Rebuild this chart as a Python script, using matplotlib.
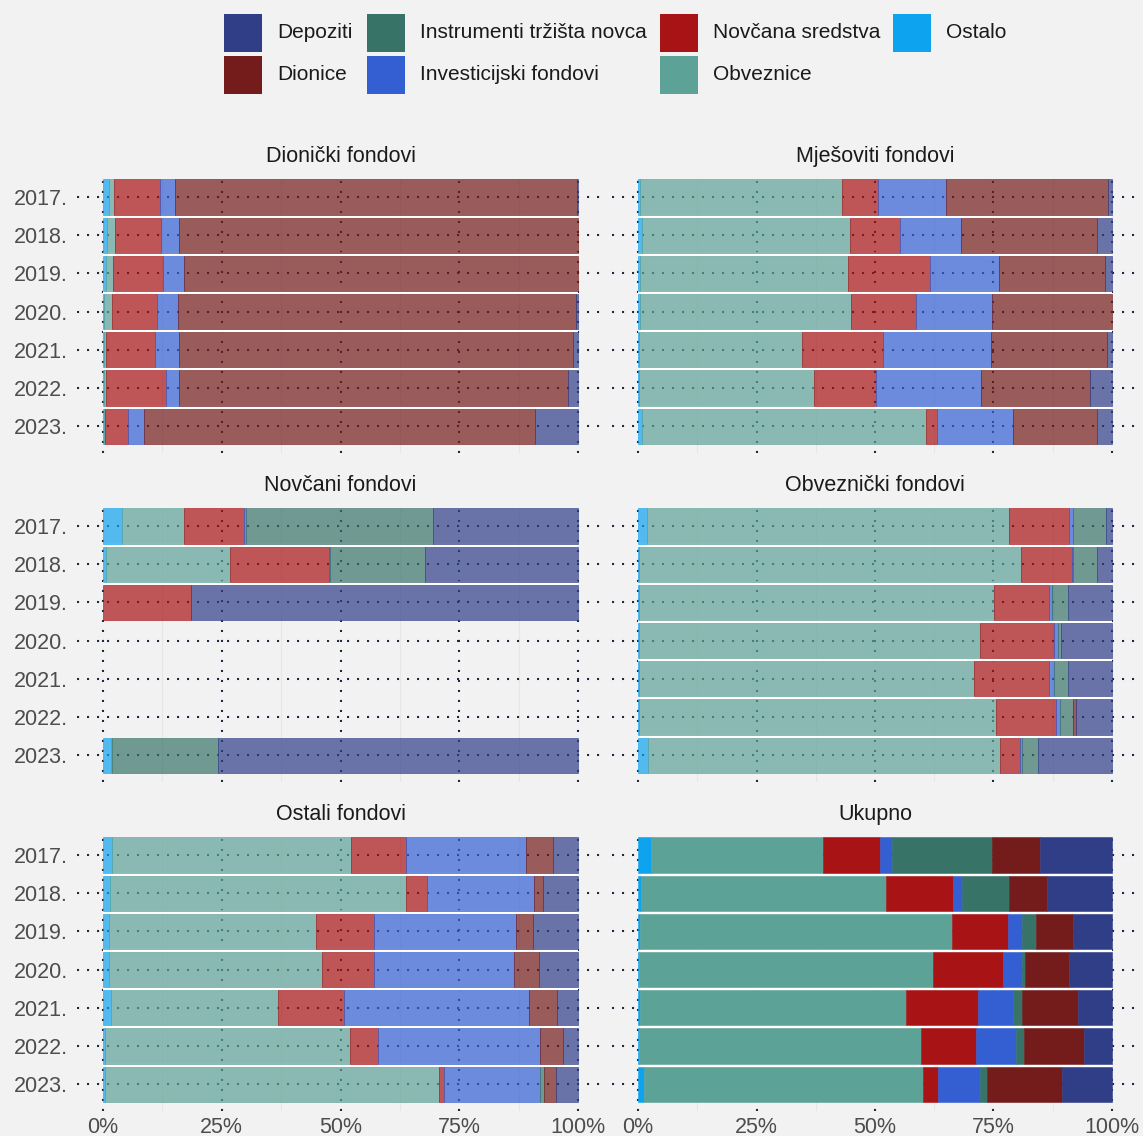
import numpy as np
import matplotlib
matplotlib.use('Agg')
import matplotlib.pyplot as plt
from matplotlib.colors import to_rgba
from matplotlib.patches import Rectangle

plt.rcParams['font.family'] = ['Liberation Sans', 'DejaVu Sans']

years = ['2017.', '2018.', '2019.', '2020.', '2021.', '2022.', '2023.']

# stacking order, left to right
stack_order = ['Ostalo', 'Obveznice', 'Novčana sredstva', 'Investicijski fondovi',
               'Instrumenti tržišta novca', 'Dionice', 'Depoziti']

colors = {
    'Depoziti': '#303e88',
    'Dionice': '#731c1b',
    'Instrumenti tržišta novca': '#387368',
    'Investicijski fondovi': '#345fd3',
    'Novčana sredstva': '#a81315',
    'Obveznice': '#5da297',
    'Ostalo': '#0ea3ef',
}

# shares in %, years 2017.-2023.
dionicki = {
    'Ostalo':                    [1.2, 0.8, 0.6, 0.1, 0.1, 0.2, 0.2],
    'Obveznice':                 [1.0, 1.8, 1.5, 1.7, 0.6, 0.5, 0.2],
    'Novčana sredstva':          [9.8, 9.5, 10.5, 9.5, 10.3, 12.6, 4.9],
    'Investicijski fondovi':     [3.1, 3.9, 4.4, 4.5, 5.0, 2.6, 3.3],
    'Instrumenti tržišta novca': [0, 0, 0, 0, 0, 0, 0],
    'Dionice':                   [84.8, 84.0, 83.0, 83.7, 83.0, 82.0, 82.4],
    'Depoziti':                  [0.1, 0, 0, 0.5, 1.0, 2.1, 9.0],
}

mjesoviti = {
    'Ostalo':                    [0.5, 0.8, 0.4, 0.4, 0.2, 0.2, 0.9],
    'Obveznice':                 [42.5, 43.9, 44.0, 44.6, 34.4, 36.9, 59.8],
    'Novčana sredstva':          [7.7, 10.6, 17.2, 13.7, 17.0, 13.2, 2.3],
    'Investicijski fondovi':     [14.2, 12.8, 14.6, 15.9, 22.8, 22.0, 16.1],
    'Instrumenti tržišta novca': [0, 0, 0, 0, 0, 0, 0],
    'Dionice':                   [34.2, 28.8, 22.3, 25.4, 24.6, 23.0, 17.8],
    'Depoziti':                  [0.9, 3.1, 1.5, 0, 1.0, 4.7, 3.1],
}

novcani = {
    'Ostalo':                    [4.0, 0.7, 0, None, None, None, 1.7],
    'Obveznice':                 [13.0, 26.0, 0, None, None, None, 0.1],
    'Novčana sredstva':          [12.6, 20.9, 18.5, None, None, None, 0],
    'Investicijski fondovi':     [0.5, 0.2, 0, None, None, None, 0],
    'Instrumenti tržišta novca': [39.3, 19.9, 0, None, None, None, 22.5],
    'Dionice':                   [0, 0, 0, None, None, None, 0],
    'Depoziti':                  [30.6, 32.3, 81.5, None, None, None, 75.7],
}

obveznicki = {
    'Ostalo':                    [1.9, 0.2, 0.3, 0.2, 0.2, 0.2, 2.2],
    'Obveznice':                 [76.3, 80.6, 74.8, 72.0, 70.7, 75.4, 74.1],
    'Novčana sredstva':          [12.8, 10.7, 11.7, 15.5, 15.9, 12.6, 4.4],
    'Investicijski fondovi':     [0.8, 0.3, 0.5, 0.9, 0.9, 0.9, 0.4],
    'Instrumenti tržišta novca': [7.0, 5.1, 3.4, 0.7, 3.0, 2.6, 3.2],
    'Dionice':                   [0, 0, 0, 0, 0, 0.7, 0],
    'Depoziti':                  [1.2, 3.1, 9.3, 10.7, 9.3, 7.6, 15.7],
}

ostali = {
    'Ostalo':                    [1.8, 1.5, 1.2, 1.2, 1.6, 0.5, 0.4],
    'Obveznice':                 [50.4, 62.2, 43.6, 45.0, 35.2, 51.4, 70.3],
    'Novčana sredstva':          [11.6, 4.5, 12.3, 10.9, 13.9, 6.1, 1.1],
    'Investicijski fondovi':     [25.2, 22.5, 29.8, 29.4, 39.1, 34.0, 20.2],
    'Instrumenti tržišta novca': [0, 0, 0, 0, 0, 0, 0.8],
    'Dionice':                   [5.8, 1.9, 3.6, 5.3, 5.9, 4.8, 2.5],
    'Depoziti':                  [5.2, 7.4, 9.5, 8.2, 4.3, 3.2, 4.7],
}

ukupno = {
    'Ostalo':                    [2.8, 0.6, 0.4, 0.2, 0.4, 0.2, 1.3],
    'Obveznice':                 [36.2, 51.7, 65.9, 62.1, 56.1, 59.6, 58.8],
    'Novčana sredstva':          [12.0, 14.1, 11.8, 14.8, 15.2, 11.5, 3.1],
    'Investicijski fondovi':     [2.5, 2.0, 2.9, 3.9, 7.4, 8.4, 8.9],
    'Instrumenti tržišta novca': [21.1, 9.8, 3.0, 0.7, 2.0, 1.7, 1.6],
    'Dionice':                   [10.3, 8.0, 7.8, 9.3, 11.8, 12.8, 15.8],
    'Depoziti':                  [15.1, 13.8, 8.2, 9.0, 7.1, 5.8, 10.5],
}

panels = [
    ('Dionički fondovi', dionicki, 0.7),
    ('Mješoviti fondovi', mjesoviti, 0.7),
    ('Novčani fondovi', novcani, 0.7),
    ('Obveznički fondovi', obveznicki, 0.7),
    ('Ostali fondovi', ostali, 0.7),
    ('Ukupno', ukupno, 1.0),
]

bg = '#f2f2f2'
dot_col = '#1f2a40'
dots = (0, (1, 3.8))

W, H = 1143, 1136
fig = plt.figure(figsize=(W / 100, H / 100), dpi=100, facecolor=bg)

col_x = [77, 612]
col_w = [527, 526]
row_top = [179, 508, 837]
ax_h = 274

for k, (title, data, alpha) in enumerate(panels):
    r, c = divmod(k, 2)
    rect = [col_x[c] / W, (H - row_top[r] - ax_h) / H, col_w[c] / W, ax_h / H]
    ax = fig.add_axes(rect)
    ax.set_facecolor(bg)
    for s in ax.spines.values():
        s.set_visible(False)
    ax.set_xlim(-0.055, 1.055)
    ax.set_ylim(6.7, -0.47)

    # grid
    for v in [0.125, 0.375, 0.625, 0.875]:
        ax.axvline(v, color='#e6e6e6', lw=0.8, zorder=0.5)
    for v in [0, 0.25, 0.5, 0.75, 1.0]:
        ax.axvline(v, color=dot_col, lw=1.5, ls=dots, dash_capstyle='butt', zorder=1)
    for i in range(len(years)):
        ax.axhline(i, color=dot_col, lw=1.5, ls=dots, dash_capstyle='butt', zorder=1)

    y = np.arange(len(years))
    has = np.array([data['Depoziti'][i] is not None for i in range(len(years))])
    left = np.zeros(len(years))
    for cat in stack_order:
        vals = np.array([np.nan if v is None else v for v in data[cat]], dtype=float) / 100
        m = np.nan_to_num(vals) > 0
        if m.any():
            ax.barh(y[m], vals[m], left=left[m], height=0.92,
                    facecolor=to_rgba(colors[cat], alpha), edgecolor=colors[cat],
                    linewidth=0.4, zorder=2)
        left += np.nan_to_num(vals)

    # white separators between neighbouring bars
    for i in range(len(years) - 1):
        if has[i] and has[i + 1]:
            ax.plot([0, 1], [i + 0.5, i + 0.5], color='white', lw=2.6,
                    solid_capstyle='butt', zorder=1.5)

    ax.set_title(title, fontsize=15.5, color='#1a1a1a', pad=12)

    ax.set_yticks(y)
    ax.set_xticks([0, 0.25, 0.5, 0.75, 1.0])
    ax.tick_params(length=0, labelsize=15.5, labelcolor='#4d4d4d')
    ax.tick_params(axis='y', pad=6.5)
    ax.tick_params(axis='x', pad=4)
    if c == 0:
        ax.set_yticklabels(years)
    else:
        ax.set_yticklabels([])
    if r == 2:
        ax.set_xticklabels(['0%', '25%', '50%', '75%', '100%'])
    else:
        ax.set_xticklabels([])

# legend: 4 columns x 2 rows, filled column by column in alphabetical order
legend_order = sorted(stack_order)
key_x = [224, 367, 660, 893]
key_y = [14, 56]
key = 38
for n, name in enumerate(legend_order):
    cc, rr = divmod(n, 2)
    x0, y0 = key_x[cc], key_y[rr]
    fig.patches.append(Rectangle((x0 / W, 1 - (y0 + key) / H), key / W, key / H,
                                 transform=fig.transFigure, facecolor=colors[name],
                                 edgecolor='none'))
    fig.text((x0 + key + 15) / W, 1 - (y0 + key / 2) / H, name, fontsize=15,
             color='#1a1a1a', va='center', ha='left')

fig.savefig('out.png', dpi=100, facecolor=bg)
